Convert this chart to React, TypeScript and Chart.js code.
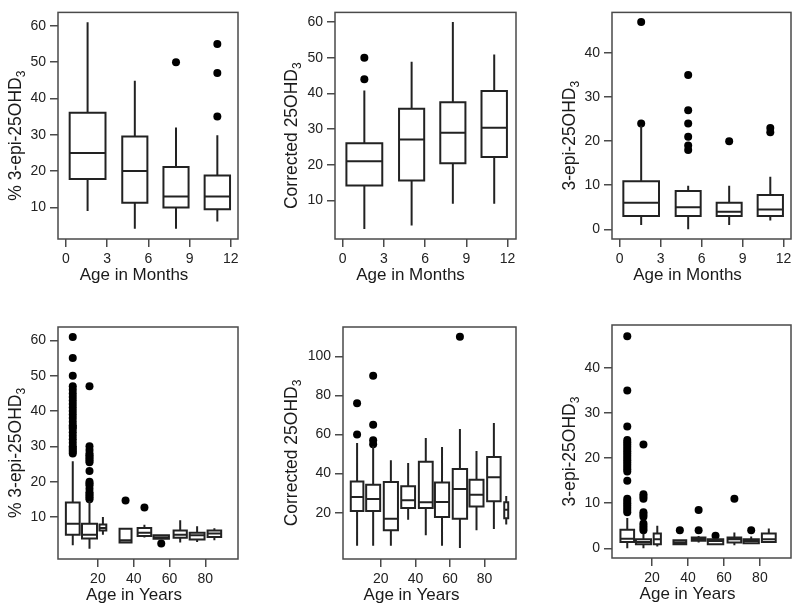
import React, { useEffect, useRef } from "react";
import { Chart, registerables } from "chart.js";

Chart.register(...registerables);

const FONT = "'Liberation Sans', Arial, Helvetica, sans-serif";

// ---------- Top row: age in months ----------
const monthBoxStart = [0.27, 4.1, 7.1, 10.1];
const monthBoxEnd = [2.88, 5.93, 8.93, 11.95];
const monthTicks = [0, 3, 6, 9, 12];

// % 3-epi-25OHD3 by month group
const pctMonLow = [9, 4.1, 4.1, 6.1];
const pctMonQ1 = [17.8, 11.3, 10, 9.5];
const pctMonMed = [25, 20, 13, 13];
const pctMonQ3 = [36.1, 29.5, 21.1, 18.8];
const pctMonHigh = [61, 44.9, 32, 29.9];
const pctMonOut = [[], [], [50], [35, 47, 55]];
const pctMonYTicks = [10, 20, 30, 40, 50, 60];

// Corrected 25OHD3 by month group
const corMonLow = [2, 3, 9.1, 9.1];
const corMonQ1 = [14.2, 15.6, 20.4, 22.2];
const corMonMed = [21, 27.1, 29, 30.4];
const corMonQ3 = [26, 35.7, 37.5, 40.7];
const corMonHigh = [40.8, 48.9, 60, 50.9];
const corMonOut = [[44, 50], [], [], []];
const corMonYTicks = [10, 20, 30, 40, 50, 60];

// 3-epi-25OHD3 by month group
const epiMonLow = [1, 0, 1, 2];
const epiMonQ1 = [3, 3, 3, 3];
const epiMonMed = [6, 5, 4, 4.5];
const epiMonQ3 = [10.9, 8.7, 6, 7.8];
const epiMonHigh = [23.5, 9.9, 9.9, 11.9];
const epiMonOut = [[24, 47], [18, 19, 21, 24, 27, 35], [20], [22, 23]];
const epiMonYTicks = [0, 10, 20, 30, 40];

// ---------- Bottom row: age in years ----------
const yearTicks = [20, 40, 60, 80];

// % 3-epi-25OHD3 by age group
const pctYrStart = [2.1, 11.1, 20.9, 32.1, 42.2, 51.1, 62.3, 71.3, 81.3];
const pctYrEnd = [9.8, 19.5, 24.7, 38.8, 49.8, 59.7, 69.7, 79.6, 88.9];
const pctYrLow = [2, 1, 5, 2.5, 4.2, 3.6, 2.8, 2.9, 3.4];
const pctYrQ1 = [5, 3.9, 6.2, 2.8, 4.6, 3.8, 4.1, 3.6, 4.3];
const pctYrMed = [8.1, 5, 6.9, 3.4, 5.5, 4.2, 5, 4.8, 5.3];
const pctYrQ3 = [14.1, 8.1, 7.9, 6.7, 6.9, 4.8, 6.2, 5.5, 6.2];
const pctYrHigh = [25.8, 14.5, 10, 6.7, 7.8, 5.0, 9.1, 7.4, 6.8];
const pctYrOut = [
  [28, 28.5, 29, 29.5, 30, 31, 32, 33, 34, 35, 35.5, 36, 37, 38, 39, 40, 41, 42, 43, 44, 45, 46, 47, 50, 55, 61],
  [15, 15.5, 16, 16.5, 17, 18, 19, 19.5, 20, 23, 25.5, 26, 26.5, 27, 27.5, 28, 29, 30, 47],
  [], [14.7], [12.7], [2.5], [], [], [],
];
const pctYrYTicks = [10, 20, 30, 40, 50, 60];

// Corrected 25OHD3 by age group
const corYrStart = [2.6, 11.5, 21.7, 31.8, 42, 51.3, 61.6, 71.3, 81.5, 91.4];
const corYrEnd = [9.9, 19.6, 29.9, 39.8, 50, 59.5, 69.9, 79.4, 89.3, 93.7];
const corYrLow = [3.1, 3.1, 3.1, 16.4, 8.4, 3.1, 1.9, 11, 11.6, 13.9];
const corYrQ1 = [20.9, 20.9, 11, 22.4, 22.4, 17.8, 16.9, 23.1, 25.8, 17.1];
const corYrMed = [28, 27, 16.9, 26.3, 25.3, 25.5, 32.1, 29.2, 38.1, 21.5];
const corYrQ3 = [36, 34.3, 35.7, 33.5, 46.1, 35.4, 42.3, 36.9, 48.5, 25.3];
const corYrHigh = [55.6, 54, 46.8, 45.4, 58.2, 53.6, 62.8, 51.6, 65.9, 28.5];
const corYrOut = [[60, 76], [55, 57, 65, 90], [], [], [], [], [110], [], [], []];
const corYrYTicks = [20, 40, 60, 80, 100];

// 3-epi-25OHD3 by age group
const epiYrStart = [2.4, 11, 20.9, 31.9, 42.1, 51, 62, 70.9, 81.1];
const epiYrEnd = [10, 19.4, 24.9, 39, 49.7, 59.6, 69.6, 79.4, 88.8];
const epiYrLow = [0, 0, 0.4, 0.9, 1.3, 0.9, 0.7, 1.1, 1.4];
const epiYrQ1 = [1.4, 0.9, 0.9, 0.9, 1.7, 0.9, 1.3, 1.1, 1.4];
const epiYrMed = [2.1, 1.4, 2, 1.3, 2.1, 1.6, 2, 1.6, 2];
const epiYrQ3 = [4.1, 2, 3.3, 1.8, 2.4, 2, 2.4, 2, 3.3];
const epiYrHigh = [6.7, 3.3, 5, 2, 2.7, 2, 3.5, 2.6, 4.4];
const epiYrOut = [
  [8, 8.5, 9, 9.5, 10, 10.5, 11, 15, 17, 17.5, 18, 18.5, 19, 19.5, 20, 20.5, 21, 21.5, 22, 22.5, 23, 23.5, 24, 27, 35, 47],
  [4, 4.5, 5, 5.5, 7, 7.5, 8, 11, 11.5, 12, 23],
  [], [4], [4, 8.5], [2.8], [11], [4], [],
];
const epiYrYTicks = [0, 10, 20, 30, 40];

type Panel = {
  cell: [number, number, number, number];
  frame: [number, number, number, number];
  xRange: [number, number];
  yRange: [number, number];
  xTicks: number[];
  yTicks: number[];
  start: number[];
  end: number[];
  low: number[];
  q1: number[];
  med: number[];
  q3: number[];
  high: number[];
  out: number[][];
  xTitle: string;
  yTitle: string;
  ySub: string;
  yBase: number;
  xShift: number;
};

const panels: Panel[] = [
  {
    cell: [0, 0, 265, 300], frame: [58, 7, 238, 239],
    xRange: [-0.58, 12.53], yRange: [1.3, 63.7], xTicks: monthTicks, yTicks: pctMonYTicks,
    start: monthBoxStart, end: monthBoxEnd, low: pctMonLow, q1: pctMonQ1, med: pctMonMed, q3: pctMonQ3, high: pctMonHigh, out: pctMonOut,
    xTitle: "Age in Months", yTitle: "% 3-epi-25OHD", ySub: "3", yBase: 37.5, xShift: -14,
  },
  {
    cell: [265, 0, 265, 300], frame: [335, 7, 516, 239],
    xRange: [-0.56, 12.61], yRange: [-0.8, 62.7], xTicks: monthTicks, yTicks: corMonYTicks,
    start: monthBoxStart, end: monthBoxEnd, low: corMonLow, q1: corMonQ1, med: corMonMed, q3: corMonQ3, high: corMonHigh, out: corMonOut,
    xTitle: "Age in Months", yTitle: "Corrected 25OHD", ySub: "3", yBase: 38, xShift: -15,
  },
  {
    cell: [530, 0, 270, 300], frame: [612, 7, 791, 239],
    xRange: [-0.56, 12.54], yRange: [-2.2, 49.2], xTicks: monthTicks, yTicks: epiMonYTicks,
    start: monthBoxStart, end: monthBoxEnd, low: epiMonLow, q1: epiMonQ1, med: epiMonMed, q3: epiMonQ3, high: epiMonHigh, out: epiMonOut,
    xTitle: "Age in Months", yTitle: "3-epi-25OHD", ySub: "3", yBase: 37, xShift: -14,
  },
  {
    cell: [0, 300, 265, 312], frame: [58, 327, 238, 559],
    xRange: [-2.3, 98.3], yRange: [-1.9, 63.8], xTicks: yearTicks, yTicks: pctYrYTicks,
    start: pctYrStart, end: pctYrEnd, low: pctYrLow, q1: pctYrQ1, med: pctYrMed, q3: pctYrQ3, high: pctYrHigh, out: pctYrOut,
    xTitle: "Age in Years", yTitle: "% 3-epi-25OHD", ySub: "3", yBase: 37.5, xShift: -14,
  },
  {
    cell: [265, 300, 265, 312], frame: [343, 327, 516, 559],
    xRange: [-1.9, 98.2], yRange: [-3.7, 115], xTicks: yearTicks, yTicks: corYrYTicks,
    start: corYrStart, end: corYrEnd, low: corYrLow, q1: corYrQ1, med: corYrMed, q3: corYrQ3, high: corYrHigh, out: corYrOut,
    xTitle: "Age in Years", yTitle: "Corrected 25OHD", ySub: "3", yBase: 46, xShift: -18,
  },
  {
    cell: [530, 300, 270, 312], frame: [612, 325, 791, 558],
    xRange: [-2.3, 97.3], yRange: [-2.15, 49.5], xTicks: yearTicks, yTicks: epiYrYTicks,
    start: epiYrStart, end: epiYrEnd, low: epiYrLow, q1: epiYrQ1, med: epiYrMed, q3: epiYrQ3, high: epiYrHigh, out: epiYrOut,
    xTitle: "Age in Years", yTitle: "3-epi-25OHD", ySub: "3", yBase: 37, xShift: -14,
  },
];

const Y_AXIS_W = 40;
const X_AXIS_H = 30;

const decoPlugin = {
  id: "deco",
  afterDraw(chart: any, _args: any, opts: any) {
    const { ctx, chartArea: a } = chart;
    ctx.save();
    ctx.strokeStyle = "#4a4a4a";
    ctx.lineWidth = 1.5;
    ctx.strokeRect(a.left, a.top, a.right - a.left, a.bottom - a.top);
    ctx.fillStyle = "#1a1a1a";
    ctx.font = `17px ${FONT}`;
    ctx.textAlign = "center";
    ctx.textBaseline = "alphabetic";
    ctx.fillText(opts.xTitle, (a.left + a.right) / 2 + opts.xShift, a.bottom + 41);
    ctx.font = `17.5px ${FONT}`;
    const mw = ctx.measureText(opts.yTitle).width;
    ctx.font = `12px ${FONT}`;
    const sw = ctx.measureText(opts.ySub).width;
    const total = mw + sw;
    ctx.translate(a.left - opts.yBase, (a.top + a.bottom) / 2 + 10);
    ctx.rotate(-Math.PI / 2);
    ctx.textAlign = "left";
    ctx.font = `17.5px ${FONT}`;
    ctx.fillText(opts.yTitle, -total / 2, 0);
    ctx.font = `12px ${FONT}`;
    ctx.fillText(opts.ySub, -total / 2 + mw, 4);
    ctx.restore();
  },
};

function buildDatasets(p: Panel) {
  const lines: any[] = [];
  const pts: any[] = [];
  p.start.forEach((s, i) => {
    const e = p.end[i];
    const c = (s + e) / 2;
    lines.push(
      { x: s, y: p.q1[i] }, { x: e, y: p.q1[i] }, { x: e, y: p.q3[i] }, { x: s, y: p.q3[i] },
      { x: s, y: p.q1[i] }, { x: e, y: p.q1[i] }, { x: s, y: null },
      { x: s, y: p.med[i] }, { x: e, y: p.med[i] }, { x: e, y: null },
      { x: c, y: p.q3[i] }, { x: c, y: p.high[i] }, { x: c, y: null },
      { x: c, y: p.low[i] }, { x: c, y: p.q1[i] }, { x: c, y: null }
    );
    p.out[i].forEach((v) => pts.push({ x: c, y: v }));
  });
  return [
    {
      data: lines, showLine: true, spanGaps: false, pointRadius: 0, pointHoverRadius: 0,
      borderColor: "#222", borderWidth: 2, fill: false, tension: 0,
    },
    {
      data: pts, showLine: false, pointRadius: 4, pointHoverRadius: 4,
      backgroundColor: "#000", borderColor: "#000", borderWidth: 0,
    },
  ];
}

function axisCommon(ticks: number[], isX: boolean) {
  return {
    type: "linear",
    afterBuildTicks: (s: any) => {
      s.ticks = ticks.map((v) => ({ value: v }));
    },
    afterFit: (s: any) => {
      if (isX) s.height = X_AXIS_H;
      else s.width = Y_AXIS_W;
    },
    grid: { drawOnChartArea: false, drawTicks: true, tickLength: 8, color: "#4a4a4a", lineWidth: 1.5 },
    border: { display: false },
    ticks: { font: { family: FONT, size: 14 }, color: "#222", padding: 4, maxRotation: 0, autoSkip: false },
  };
}

function PanelChart({ p }: { p: Panel }) {
  const ref = useRef<HTMLCanvasElement | null>(null);
  useEffect(() => {
    if (!ref.current) return;
    const [cx, cy, cw, ch] = p.cell;
    const [L, T, R, B] = p.frame;
    const chart = new Chart(ref.current, {
      type: "scatter",
      data: { datasets: buildDatasets(p) as any },
      options: {
        animation: false,
        responsive: true,
        maintainAspectRatio: false,
        events: [],
        layout: {
          autoPadding: false,
          padding: { left: L - cx - Y_AXIS_W, top: T - cy, right: cx + cw - R, bottom: cy + ch - B - X_AXIS_H },
        },
        scales: {
          x: { ...axisCommon(p.xTicks, true), min: p.xRange[0], max: p.xRange[1] } as any,
          y: { ...axisCommon(p.yTicks, false), min: p.yRange[0], max: p.yRange[1] } as any,
        },
        plugins: {
          legend: { display: false },
          tooltip: { enabled: false },
          deco: { xTitle: p.xTitle, yTitle: p.yTitle, ySub: p.ySub, yBase: p.yBase, xShift: p.xShift },
        } as any,
      },
      plugins: [decoPlugin as any],
    });
    return () => chart.destroy();
  }, [p]);
  const [cx, cy, cw, ch] = p.cell;
  return (
    <div style={{ position: "absolute", left: cx, top: cy, width: cw, height: ch }}>
      <canvas ref={ref} />
    </div>
  );
}

export default function App() {
  return (
    <div style={{ position: "absolute", left: 0, top: 0, width: 800, height: 612, background: "#fff" }}>
      {panels.map((p, i) => (
        <PanelChart key={i} p={p} />
      ))}
    </div>
  );
}
